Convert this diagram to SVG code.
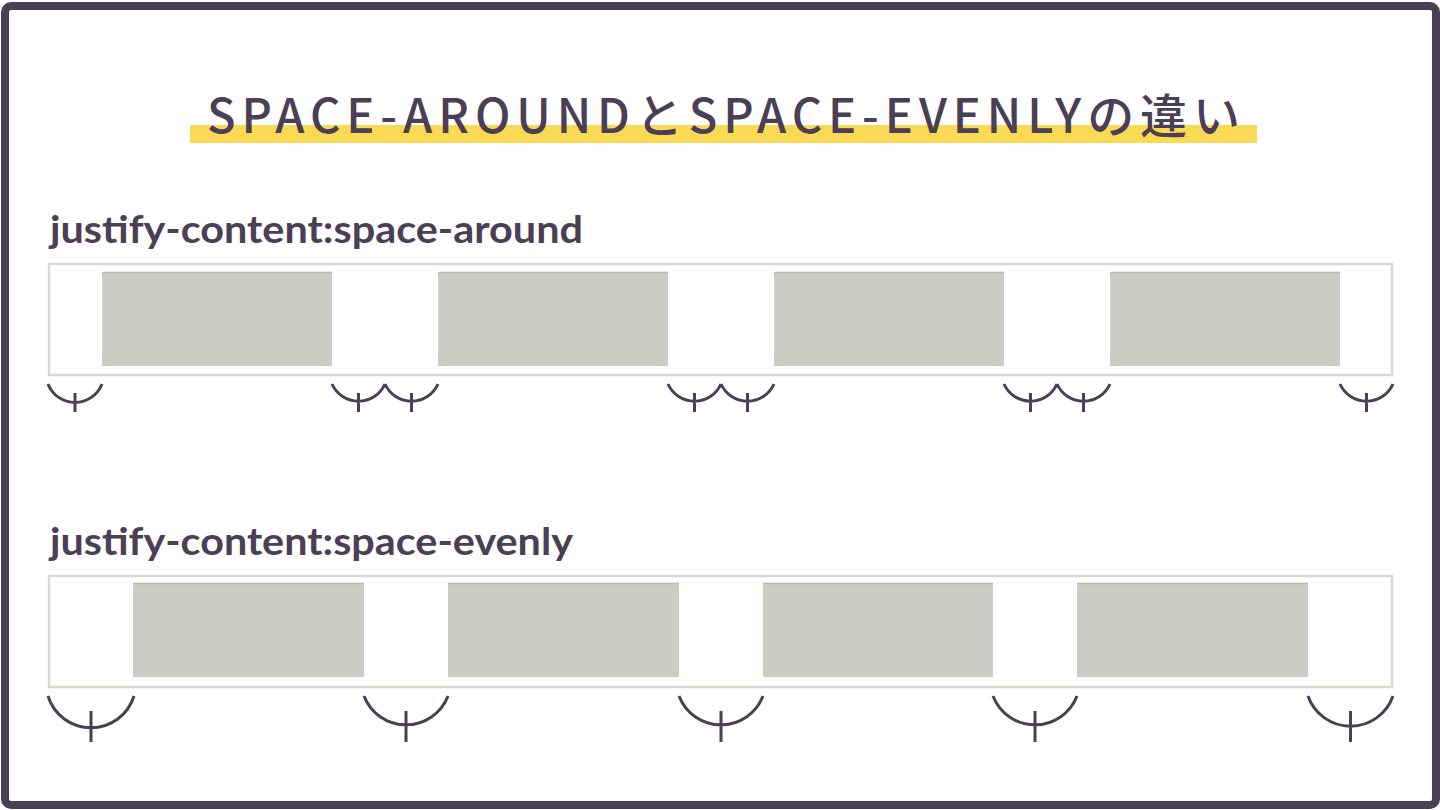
<svg xmlns="http://www.w3.org/2000/svg" width="1440" height="810" viewBox="0 0 1440 810">
<defs>
<style>
.frame{fill:#ffffff;stroke:#4b3f55;stroke-width:8}
.title{font-family:"Noto Sans CJK JP","Noto Sans",sans-serif;font-size:47px;font-weight:500;fill:#4b3f55}
.head{font-family:Lato,"Liberation Sans",sans-serif;font-size:38px;font-weight:700;fill:#4b3f55}
.box{fill:#ffffff;stroke:#d9d9d1;stroke-width:2.5}
.item{fill:#cccbc4}
.itemtop{stroke:#b8b7af;stroke-width:1.5}
.arc{fill:none;stroke:#4b3f55;stroke-width:3;stroke-linecap:butt}
</style>
</defs>
<rect class="frame" x="5" y="6" width="1431" height="799" rx="6"/>
<g id="title">
<rect x="190" y="125" width="1067" height="18" fill="#fad955"/>
<text class="title" x="207" y="133" textLength="1033" lengthAdjust="spacing">SPACE-AROUNDとSPACE-EVENLYの違い</text>
</g>
<g id="around">
<text class="head" x="50" y="243" textLength="533" lengthAdjust="spacingAndGlyphs">justify-content:space-around</text>
<rect class="box" x="49" y="264" width="1343" height="111"/>
<g id="around-item1"><rect class="item" x="102" y="272" width="230" height="94"/><line class="itemtop" x1="102" y1="272.5" x2="332" y2="272.5"/></g>
<g id="around-item2"><rect class="item" x="438" y="272" width="230" height="94"/><line class="itemtop" x1="438" y1="272.5" x2="668" y2="272.5"/></g>
<g id="around-item3"><rect class="item" x="774" y="272" width="230" height="94"/><line class="itemtop" x1="774" y1="272.5" x2="1004" y2="272.5"/></g>
<g id="around-item4"><rect class="item" x="1110" y="272" width="230" height="94"/><line class="itemtop" x1="1110" y1="272.5" x2="1340" y2="272.5"/></g>
</g>
<g id="evenly">
<text class="head" x="50" y="555" textLength="523" lengthAdjust="spacingAndGlyphs">justify-content:space-evenly</text>
<rect class="box" x="49" y="576" width="1343" height="111"/>
<g id="evenly-item1"><rect class="item" x="133" y="583" width="231" height="94"/><line class="itemtop" x1="133" y1="583.5" x2="364" y2="583.5"/></g>
<g id="evenly-item2"><rect class="item" x="448" y="583" width="231" height="94"/><line class="itemtop" x1="448" y1="583.5" x2="679" y2="583.5"/></g>
<g id="evenly-item3"><rect class="item" x="763" y="583" width="230" height="94"/><line class="itemtop" x1="763" y1="583.5" x2="993" y2="583.5"/></g>
<g id="evenly-item4"><rect class="item" x="1077" y="583" width="231" height="94"/><line class="itemtop" x1="1077" y1="583.5" x2="1308" y2="583.5"/></g>
</g>
<g id="connectors">
<g id="around-gaps">
<path class="arc" d="M48 384 A29 29 0 0 0 102 384 M75 393 V412"/>
<path class="arc" d="M332 384 A29 29 0 0 0 385 384 M358.5 393 V412"/>
<path class="arc" d="M385 384 A29 29 0 0 0 438 384 M411.5 393 V412"/>
<path class="arc" d="M668 384 A29 29 0 0 0 721 384 M694.5 393 V412"/>
<path class="arc" d="M721 384 A29 29 0 0 0 774 384 M747.5 393 V412"/>
<path class="arc" d="M1004 384 A29 29 0 0 0 1057 384 M1030.5 393 V412"/>
<path class="arc" d="M1057 384 A29 29 0 0 0 1110 384 M1083.5 393 V412"/>
<path class="arc" d="M1340 384 A29 29 0 0 0 1393 384 M1366.5 393 V412"/>
</g>
<g id="evenly-gaps">
<path class="arc" d="M48 696 A45 45 0 0 0 134 696 M91 711 V742"/>
<path class="arc" d="M364 696 A45 45 0 0 0 448 696 M406 711 V742"/>
<path class="arc" d="M679 696 A45 45 0 0 0 763 696 M721 711 V742"/>
<path class="arc" d="M993 696 A45 45 0 0 0 1077 696 M1035 711 V742"/>
<path class="arc" d="M1308 696 A45 45 0 0 0 1393 696 M1350.5 711 V742"/>
</g>
</g>
</svg>
